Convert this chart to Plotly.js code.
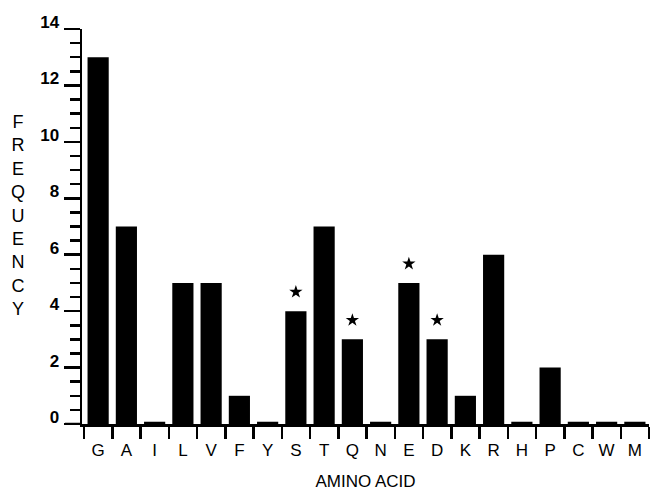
<!DOCTYPE html>
<html>
<head>
<meta charset="utf-8">
<script src="https://cdn.plot.ly/plotly-3.0.1.min.js"></script>
<style>html,body{margin:0;padding:0;background:#fff;}#chart{width:650px;height:493px;}</style>
</head>
<body>
<div id="chart"></div>
<script>
const aminoAcids = ['G','A','I','L','V','F','Y','S','T','Q','N','E','D','K','R','H','P','C','W','M'];
const frequency = [13, 7, 0.08, 5, 5, 1, 0.08, 4, 7, 3, 0.08, 5, 3, 1, 6, 0.08, 2, 0.08, 0.08, 0.08];
const starredAcids = ['S','Q','E','D'];
const yTickVals = [0, 2, 4, 6, 8, 10, 12, 14];
const yTickText = ['0', '2', '4', '6', '8', '10', '12', '14'];

const starOffset = 0.68;
const starY = starredAcids.map(a => frequency[aminoAcids.indexOf(a)] + starOffset);

const font = {family: 'Liberation Sans, Arial, sans-serif', color: '#000'};

const traces = [
  {type: 'bar', x: aminoAcids, y: frequency, width: 0.75,
   marker: {color: '#000', line: {width: 0}}, hoverinfo: 'x+y'},
  {type: 'scatter', mode: 'markers', x: starredAcids, y: starY,
   marker: {symbol: 'star', size: 10, color: '#000'}, hoverinfo: 'skip'}
];

const layout = {
  width: 650, height: 493,
  margin: {l: 82, r: 1, t: 29, b: 69},
  paper_bgcolor: '#fff', plot_bgcolor: '#fff',
  showlegend: false,
  bargap: 0.25,
  xaxis: {
    type: 'category', categoryorder: 'array', categoryarray: aminoAcids,
    range: [-0.571, 19.5],
    showline: true, linecolor: '#000', linewidth: 2.5,
    ticks: 'outside', tickson: 'boundaries', ticklen: 12, tickwidth: 2.5, tickcolor: '#000',
    showgrid: false, zeroline: false,
    tickfont: Object.assign({size: 17}, font),
    ticklabelstandoff: 9,
    title: {text: 'AMINO ACID', font: Object.assign({size: 17}, font), standoff: 16}
  },
  yaxis: {
    range: [0, 14],
    tickvals: yTickVals, ticktext: yTickText,
    showline: true, linecolor: '#000', linewidth: 2.5,
    ticks: 'outside', ticklen: 16, tickwidth: 2.5, tickcolor: '#000',
    minor: {dtick: 0.5, ticks: 'outside', ticklen: 10, tickwidth: 2.5, tickcolor: '#000', showgrid: false},
    showgrid: false, zeroline: false,
    tickfont: Object.assign({size: 17, weight: 'bold'}, font),
    ticklabelshift: -7, ticklabelstandoff: 1
  },
  shapes: [
    {type: 'line', xref: 'paper', yref: 'y', x0: -0.03, x1: 0, y0: 0, y1: 0,
     line: {color: '#000', width: 2.5}}
  ],
  annotations: [
    {xref: 'paper', yref: 'paper', x: -0.113, y: 0.527, xanchor: 'center', yanchor: 'middle',
     showarrow: false, align: 'center',
     text: 'F<br>R<br>E<br>Q<br>U<br>E<br>N<br>C<br>Y',
     font: Object.assign({size: 18}, font)}
  ]
};

Plotly.newPlot('chart', traces, layout, {displayModeBar: false, staticPlot: true});
</script>
</body>
</html>
